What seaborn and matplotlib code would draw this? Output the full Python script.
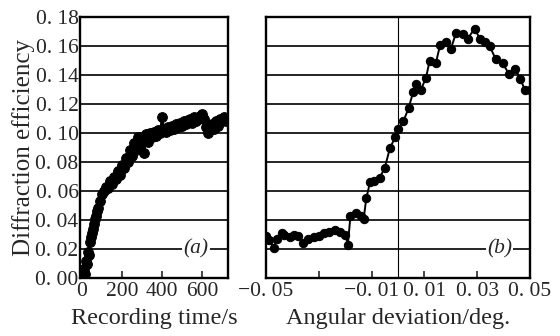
import matplotlib
matplotlib.use("Agg")
import matplotlib.pyplot as plt
import seaborn as sns
import pandas as pd
from matplotlib.ticker import FixedLocator, FixedFormatter

# ---- data (a): recording time vs diffraction efficiency ----
time_s = [0, 3, 6, 10, 15, 20, 25, 30, 35, 40, 45, 50, 55, 60, 65, 70, 75, 80, 90, 100,
          110, 120, 130, 140, 150, 160, 170, 180, 190, 200, 210, 220, 230, 240, 250,
          260, 270, 280, 290, 300, 310, 320, 330, 340, 350, 360, 370, 380, 390, 400,
          410, 420, 430, 440, 450, 460, 470, 480, 490, 500, 510, 520, 530, 540, 550,
          560, 570, 580, 590, 600, 610, 620, 630, 640, 650, 660, 670, 680, 690, 700,
          710, 720]
eff_a = [0.001, 0.000, 0.004, 0.006, 0.003, 0.012, 0.010, 0.018, 0.016, 0.025, 0.028,
         0.031, 0.034, 0.037, 0.041, 0.043, 0.046, 0.048, 0.053, 0.058,
         0.060, 0.063, 0.062, 0.067, 0.065, 0.070, 0.068, 0.074, 0.071, 0.078,
         0.076, 0.083, 0.080, 0.088, 0.084, 0.093, 0.088, 0.097, 0.090, 0.096,
         0.086, 0.099, 0.094, 0.100, 0.097, 0.101, 0.098, 0.102, 0.100, 0.111,
         0.103, 0.101, 0.104, 0.102, 0.105, 0.103, 0.106, 0.104, 0.107, 0.105,
         0.108, 0.106, 0.109, 0.110, 0.107, 0.111, 0.108, 0.110, 0.112, 0.113,
         0.110, 0.104, 0.100, 0.103, 0.106, 0.103, 0.108, 0.105, 0.110, 0.108,
         0.111, 0.108]

# ---- data (b): angular deviation vs diffraction efficiency ----
angle_deg = [-0.050, -0.049, -0.047, -0.046, -0.044, -0.043, -0.041, -0.0395, -0.038,
             -0.036, -0.034, -0.032, -0.030, -0.028, -0.026, -0.024, -0.022, -0.020,
             -0.019, -0.018, -0.016, -0.014, -0.013, -0.012, -0.0106, -0.009, -0.007,
             -0.005, -0.003, -0.001, 0.000, 0.002, 0.004, 0.0057, 0.0068, 0.0087,
             0.0106, 0.012, 0.0143, 0.016, 0.018, 0.020, 0.022, 0.0245, 0.0264, 0.029,
             0.031, 0.033, 0.0347, 0.037, 0.0396, 0.042, 0.0445, 0.0464, 0.048, 0.050]
eff_b = [0.029, 0.026, 0.021, 0.027, 0.031, 0.030, 0.028, 0.030, 0.029, 0.024, 0.027,
         0.028, 0.029, 0.031, 0.032, 0.033, 0.032, 0.030, 0.023, 0.043, 0.045, 0.043,
         0.041, 0.055, 0.066, 0.067, 0.069, 0.076, 0.090, 0.097, 0.103, 0.108, 0.117,
         0.128, 0.134, 0.130, 0.138, 0.150, 0.148, 0.161, 0.163, 0.158, 0.169, 0.168,
         0.165, 0.172, 0.165, 0.163, 0.160, 0.151, 0.148, 0.141, 0.144, 0.137, 0.130,
         0.130]

y_ticks = [0.00, 0.02, 0.04, 0.06, 0.08, 0.10, 0.12, 0.14, 0.16, 0.18]
y_labels = ["0. 00", "0. 02", "0. 04", "0. 06", "0. 08", "0. 10", "0. 12", "0. 14",
            "0. 16", "0. 18"]
xa_ticks = [0, 200, 400, 600]
xa_labels = ["0", "200", "400", "600"]
xb_ticks = [-0.05, -0.03, -0.01, 0.01, 0.03, 0.05]
xb_labels = ["\u22120. 05", "", "\u22120. 01", "0. 01", "0. 03", "0. 05"]

sns.set_style("white")
plt.rcParams["font.family"] = ["Liberation Serif", "DejaVu Serif"]

fig = plt.figure(figsize=(5.6, 3.36), dpi=100)
axa = fig.add_axes([80/560, 1-278/336, 148/560, 261/336])
axb = fig.add_axes([266/560, 1-278/336, 264/560, 261/336])

dfa = pd.DataFrame({"t": time_s, "e": eff_a})
dfb = pd.DataFrame({"a": angle_deg, "e": eff_b})

fs = 15.5
fl = 17.5
for ax in (axa, axb):
    for yv in y_ticks[1:-1]:
        ax.axhline(yv, color="black", lw=1.2, zorder=1)
    for s in ax.spines.values():
        s.set_linewidth(1.7)
        s.set_color("black")
    ax.set_ylim(0, 0.18)

sns.lineplot(data=dfa, x="t", y="e", ax=axa, sort=False, estimator=None,
             color="black", lw=1.6, marker="o", markersize=7,
             markeredgecolor="black", zorder=3)
sns.lineplot(data=dfb, x="a", y="e", ax=axb, sort=False, estimator=None,
             color="black", lw=1.4, marker="o", markersize=6,
             markeredgecolor="black", zorder=3)

axb.axvline(0, color="black", lw=0.8, zorder=1)

axa.set_xlim(-10, 730)
axb.set_xlim(-0.05, 0.05)

axa.yaxis.set_major_locator(FixedLocator(y_ticks))
axa.yaxis.set_major_formatter(FixedFormatter(y_labels))
axa.tick_params(axis="y", length=0, labelsize=fs, pad=1)
axb.set_yticks([])

axa.xaxis.set_major_locator(FixedLocator(xa_ticks))
axa.xaxis.set_major_formatter(FixedFormatter(xa_labels))
axb.xaxis.set_major_locator(FixedLocator(xb_ticks))
axb.xaxis.set_major_formatter(FixedFormatter(xb_labels))
for ax in (axa, axb):
    ax.tick_params(axis="x", direction="in", length=5, width=1.2,
                   labelsize=fs, pad=3, bottom=True)

axa.set_xlabel("Recording time/s", fontsize=fl, labelpad=5)
axb.set_xlabel("Angular deviation/deg.", fontsize=fl, labelpad=5)
axa.set_ylabel("Diffraction efficiency", fontsize=fl + 0.5, labelpad=0)
axb.set_ylabel("")

axa.text(570, 0.02, "(a)", fontsize=fs, style="italic", ha="center", va="center",
         bbox=dict(facecolor="white", edgecolor="none", pad=1), zorder=4)
axb.text(0.0385, 0.02, "(b)", fontsize=fs, style="italic", ha="center", va="center",
         bbox=dict(facecolor="white", edgecolor="none", pad=1), zorder=4)

fig.savefig("out.png", dpi=100)
